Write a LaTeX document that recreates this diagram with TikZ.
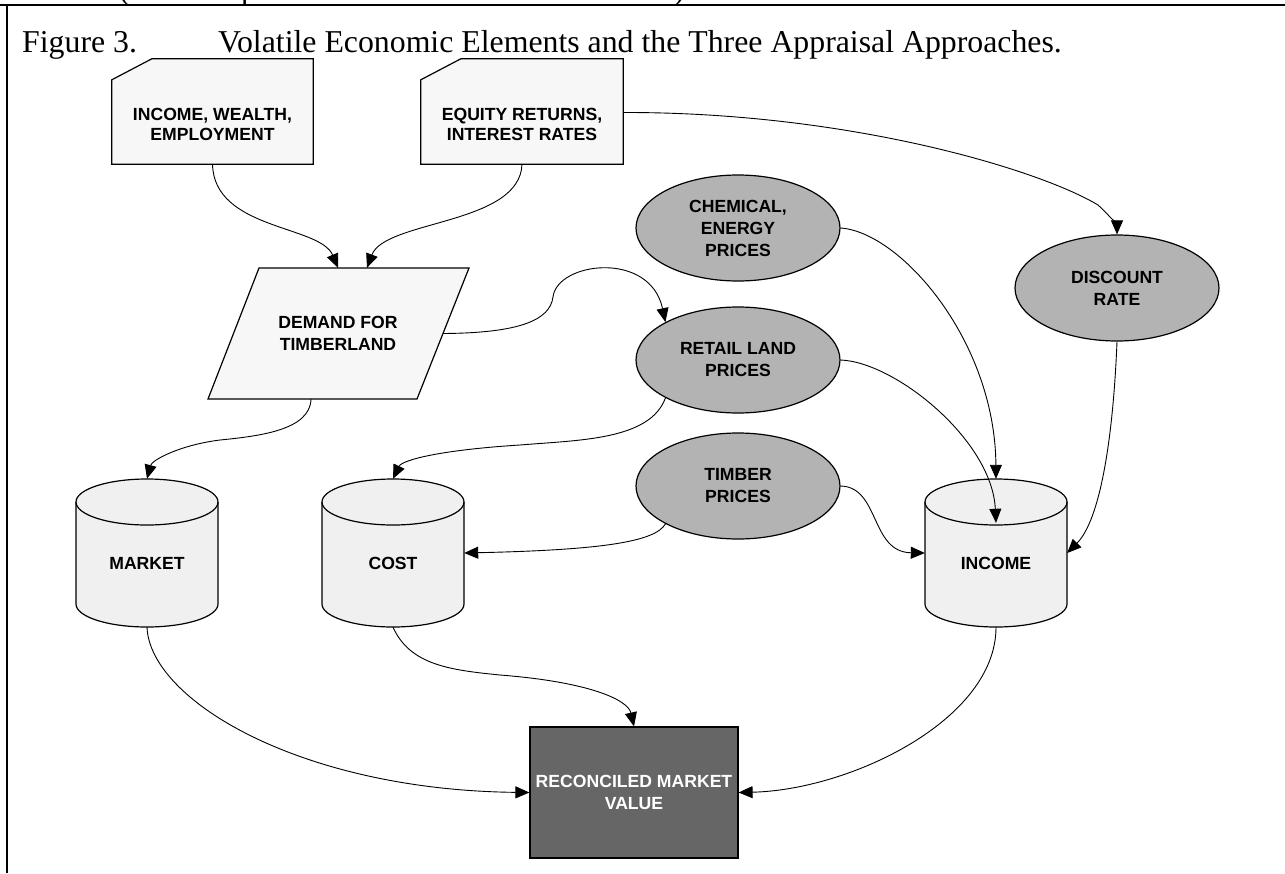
\documentclass[tikz,border=0pt]{standalone}
\usepackage{fontspec}
\setmainfont{Liberation Serif}
\newfontfamily\lsans{Liberation Sans}
\usetikzlibrary{shapes.geometric,arrows.meta}
\definecolor{docfill}{HTML}{F7F7F7}
\definecolor{ovalfill}{HTML}{B3B3B3}
\definecolor{cylfill}{HTML}{F0F0F0}
\definecolor{recfill}{HTML}{666666}
\newcommand\mycyl[1]{%
  \fill[cylfill] ({#1-71},502) -- ({#1-71},604) arc[start angle=180,end angle=360,x radius=71pt,y radius=23pt] -- ({#1+71},502) arc[start angle=0,end angle=180,x radius=71pt,y radius=23pt] -- cycle;
  \draw[shapeline] ({#1-71},502) -- ({#1-71},604) arc[start angle=180,end angle=360,x radius=71pt,y radius=23pt] -- ({#1+71},502);
  \draw[shapeline] (#1,502) ellipse[x radius=71pt,y radius=23pt];
}
\begin{document}
\begin{tikzpicture}[x=1pt,y=-1pt,
  shapeline/.style={line width=1.2pt},
  conn/.style={line width=0.9pt,-{Triangle[length=14pt,width=12pt]}},
  lbl/.style={font=\lsans\bfseries\fontsize{17.6}{22}\selectfont,align=center,inner sep=0pt},
  doclbl/.style={font=\lsans\bfseries\fontsize{17.6}{20.5}\selectfont,align=center,inner sep=0pt},
  oval/.style={ellipse,draw,shapeline,fill=ovalfill,minimum width=204pt,minimum height=106pt,inner sep=0pt,lbl},
  region/.style={rectangle,inner sep=0pt},
  titlefont/.style={font=\fontsize{31.8}{36}\selectfont,inner sep=0pt}
]
\useasboundingbox (0,0) rectangle (1285,873);
\fill[white] (0,0) rectangle (1285,873);

% cut-off text above the frame
\begin{scope}
  \clip (0,0) rectangle (1285,4.5);
  \node[titlefont,anchor=base west] (cutA) at (119,-1) {(};
  \node[titlefont,anchor=base west] (cutB) at (241,-1) {p};
  \node[titlefont,anchor=base east] (cutC) at (685,-1) {)};
\end{scope}

% frame
\draw[line width=2.5pt] (0,5) -- (1285,5);
\draw[line width=2.2pt] (7,4) -- (7,873);

% title
\node[titlefont,anchor=base west] (fig) at (22,52) {Figure 3.};
\node[titlefont,anchor=base west] (title) at (218,52) {Volatile Economic Elements and the Three Appraisal Approaches.};

% document shapes
\node[region,minimum width=201pt,minimum height=105pt] (doc1) at (212.5,111.5) {};
\node[region,minimum width=202pt,minimum height=105pt] (doc2) at (522,111.5) {};
\foreach \d in {doc1,doc2}{
  \draw[shapeline,fill=docfill] (\d.south west) -- ([yshift=-21pt]\d.north west) -- ([xshift=40pt]\d.north west) -- (\d.north east) -- (\d.south east) -- cycle;
}
\node[doclbl] (doc1t) at (212.5,124.5) {INCOME, WEALTH,\\EMPLOYMENT};
\node[doclbl] (doc2t) at (522,124.5) {EQUITY RETURNS,\\INTEREST RATES};

% demand parallelogram
\draw[shapeline,fill=docfill] (259,268) -- (469,268) -- (417,399) -- (208,399) -- cycle;
\node[region,minimum width=210pt,minimum height=131pt,lbl] (demand) at (338,333.5) {DEMAND FOR\\TIMBERLAND};

% ellipses
\node[oval] (chem) at (738,228) {CHEMICAL,\\ENERGY\\PRICES};
\node[oval] (retail) at (738,360) {RETAIL LAND\\PRICES};
\node[oval] (timber) at (738,486) {TIMBER\\PRICES};
\node[oval] (disc) at (1117,288) {DISCOUNT\\RATE};

% cylinders
\mycyl{147}
\mycyl{393}
\mycyl{996}
\node[region,minimum width=142pt,minimum height=148pt] (market) at (147,553) {};
\node[region,minimum width=142pt,minimum height=148pt] (cost) at (393,553) {};
\node[region,minimum width=142pt,minimum height=148pt] (income) at (996,553) {};
\node[lbl] (markett) at (147,563) {MARKET};
\node[lbl] (costt) at (393,563) {COST};
\node[lbl] (incomet) at (996,563) {INCOME};

% reconciled
\node[rectangle,draw,shapeline,fill=recfill,minimum width=208pt,minimum height=131pt,lbl,text=white] (rec) at (634,792.5) {RECONCILED MARKET\\VALUE};

% connectors
\draw[conn] (doc1.south) .. controls (214,230) and (320,225) .. (demand.north);
\draw[conn] (doc2.south) .. controls (520,225) and (385,220) .. ([xshift=29pt]demand.north);
\draw[conn] ([yshift=-1pt]doc2.east) .. controls (850,112) and (1040,170) .. (1098,205) .. controls (1110,216) and (1117,226) .. (disc.north);
\draw[conn] (demand.east) .. controls (520,333) and (550,320) .. (553,297) .. controls (557,262) and (650,250) .. (retail.north west);
\draw[conn] ([xshift=-27pt]demand.south) .. controls (310,430) and (260,436) .. (220,440) .. controls (180,445) and (152,460) .. (market.north);
\draw[conn] (retail.south west) .. controls (650,440) and (580,440) .. (520,445) .. controls (440,450) and (402,460) .. (cost.north);
\draw[conn] (timber.south west) .. controls (655,542) and (600,550) .. (cost.east);
\draw[conn] (chem.east) .. controls (900,232) and (995,340) .. (income.north);
\draw[conn] (retail.east) .. controls (895,362) and (992,440) .. ([yshift=-44pt]income.north);
\draw[conn] (disc.south) .. controls (1113,440) and (1100,520) .. (income.east);
\draw[conn] (timber.east) .. controls (880,487) and (870,552) .. (income.west);
\draw[conn] (market.south) .. controls (150,700) and (300,790) .. (rec.west);
\draw[conn] (cost.south) .. controls (410,665) and (450,670) .. (500,675) .. controls (590,682) and (628,700) .. (rec.north);
\draw[conn] (income.south) .. controls (996,720) and (850,790) .. (rec.east);
\end{tikzpicture}
\end{document}
